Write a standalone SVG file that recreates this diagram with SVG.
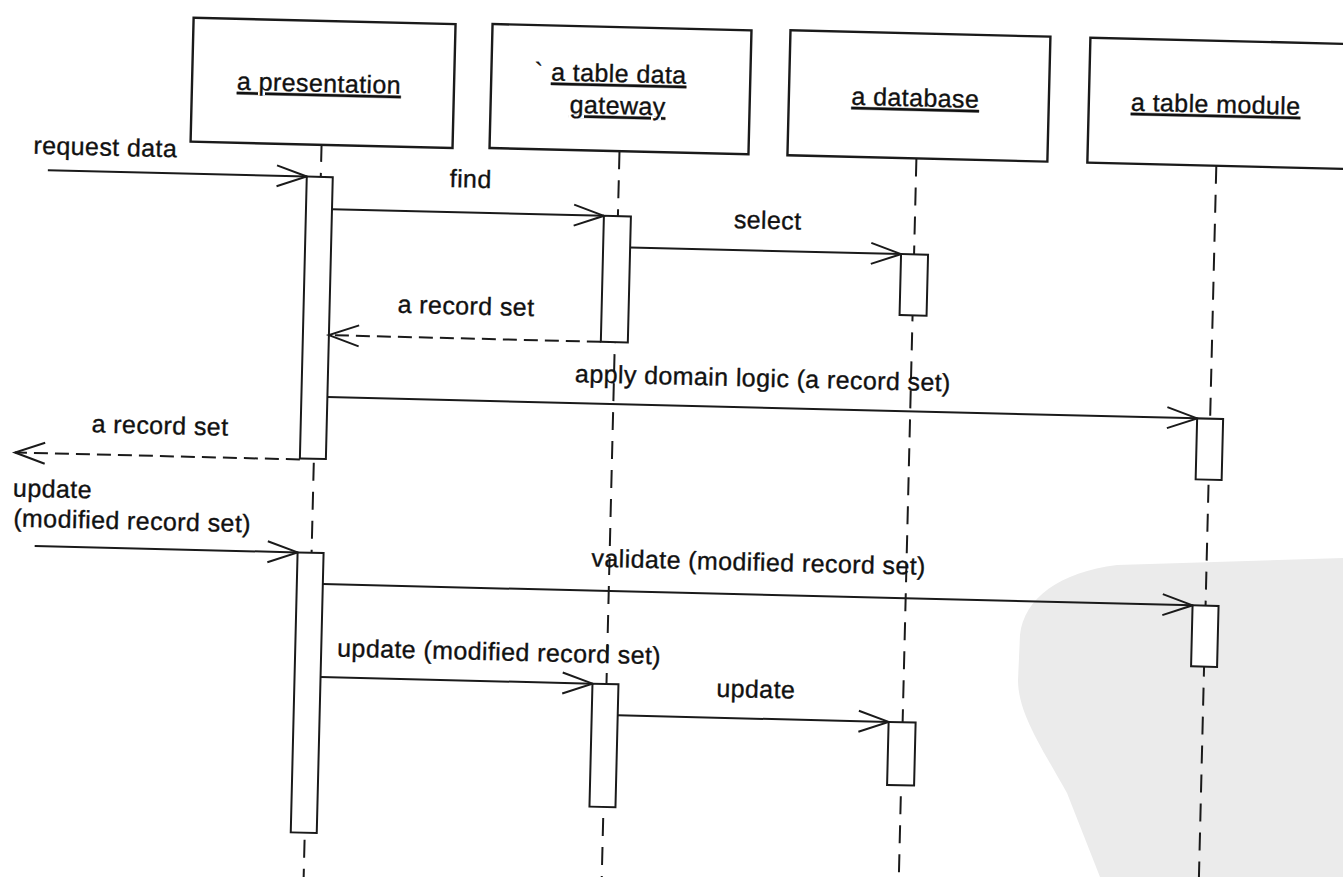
<svg xmlns="http://www.w3.org/2000/svg" width="1343" height="877" viewBox="0 0 1343 877">
<style>
.box{fill:#fff;stroke:#1a1a1a;stroke-width:2.4}
.bar{fill:#fff;stroke:#1a1a1a;stroke-width:2}
.life{stroke:#1a1a1a;stroke-width:2;stroke-dasharray:18 11;fill:none}
.msg{stroke:#1a1a1a;stroke-width:2;fill:none;marker-end:url(#open)}
.ret{stroke-dasharray:14 7}
.t{font-family:"Liberation Sans",Arial,Helvetica,sans-serif;font-size:25px;letter-spacing:0.4px;fill:#111;stroke:#111;stroke-width:0.35}
.u{text-decoration:underline}
</style>
<defs>
<marker id="open" markerUnits="userSpaceOnUse" markerWidth="40" markerHeight="30" refX="32" refY="12" orient="auto">
<path d="M2,1.5 L32,12 L2,22.5" fill="none" stroke="#1a1a1a" stroke-width="2"/>
</marker>
</defs>
<rect width="1343" height="877" fill="#fff"/>
<path id="watermark" d="M1100,877 L1067,793 C1040,745 1018,712 1018,680 L1020,635 C1024,598 1060,572 1117,565 L1343,558 L1343,877 Z" fill="#ebebeb"/>
<g transform="rotate(1.4)">
<g id="lifelines">
<line class="life" x1="325" y1="136" x2="325" y2="905"/>
<line class="life" x1="623" y1="136" x2="623" y2="905"/>
<line class="life" x1="920" y1="136" x2="920" y2="905"/>
<line class="life" x1="1220" y1="136" x2="1220" y2="905"/>
</g>
<g id="presentation">
<rect class="box" x="194" y="13" width="262" height="124"/>
<text class="t u" x="321" y="84" text-anchor="middle">a presentation</text>
<rect class="bar" x="311" y="169" width="26" height="282"/>
<rect class="bar" x="311" y="545" width="26" height="280"/>
</g>
<g id="gateway">
<rect class="box" x="493" y="12" width="259" height="124"/>
<text class="t" x="536" y="67">`</text>
<text class="t u" x="620.5" y="67" text-anchor="middle">a table data</text>
<text class="t u" x="620" y="99" text-anchor="middle">gateway</text>
<rect class="bar" x="609" y="201" width="27" height="126"/>
<rect class="bar" x="609" y="669" width="26" height="123"/>
</g>
<g id="database">
<rect class="box" x="791" y="11" width="260" height="125"/>
<text class="t u" x="917.5" y="84" text-anchor="middle">a database</text>
<rect class="bar" x="907" y="232" width="27" height="61"/>
<rect class="bar" x="906" y="700" width="27" height="63"/>
</g>
<g id="module">
<rect class="box" x="1091" y="11" width="262" height="125"/>
<text class="t u" x="1218" y="83" text-anchor="middle">a table module</text>
<rect class="bar" x="1207" y="389" width="26" height="61"/>
<rect class="bar" x="1207" y="576" width="26" height="61"/>
</g>
<g id="connectors">
<line class="msg" x1="52" y1="169" x2="311" y2="169"/>
<line class="msg" x1="337" y1="201" x2="609" y2="201"/>
<line class="msg" x1="636" y1="232" x2="907" y2="232"/>
<line class="msg ret" x1="609" y1="327" x2="337" y2="327"/>
<line class="msg" x1="337" y1="389" x2="1207" y2="389"/>
<line class="msg ret" x1="311" y1="452" x2="26" y2="452"/>
<line class="msg" x1="48" y1="545" x2="311" y2="545"/>
<line class="msg" x1="337" y1="576" x2="1207" y2="576"/>
<line class="msg" x1="337" y1="669" x2="609" y2="669"/>
<line class="msg" x1="635" y1="700" x2="906" y2="700"/>
</g>
<g id="labels">
<text class="t" x="37" y="153">request data</text>
<text class="t" x="454" y="176">find</text>
<text class="t" x="739" y="210">select</text>
<text class="t" x="405" y="303">a record set</text>
<text class="t" x="584" y="368">apply domain logic (a record set)</text>
<text class="t" x="102" y="430">a record set</text>
<text class="t" x="25" y="496">update</text>
<text class="t" x="26" y="526">(modified record set)</text>
<text class="t" x="605" y="552">validate (modified record set)</text>
<text class="t" x="353" y="648">update (modified record set)</text>
<text class="t" x="733" y="679">update</text>
</g>
</g>
</svg>
